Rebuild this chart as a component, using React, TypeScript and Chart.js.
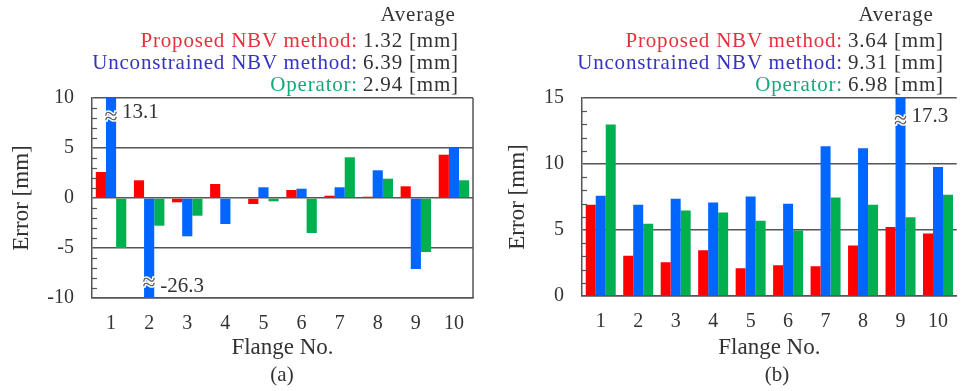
import React, { useEffect, useRef } from "react";
import { Chart, registerables } from "chart.js";

Chart.register(...registerables);

// ---------------- data ----------------
const flanges = ["1", "2", "3", "4", "5", "6", "7", "8", "9", "10"];
const seriesNames = ["Proposed NBV method", "Unconstrained NBV method", "Operator"];

const errorA_proposed = [2.6, 1.77, -0.43, 1.4, -0.6, 0.8, 0.23, 0.13, 1.17, 4.33];
const errorA_unconstrained = [13.1, -26.3, -3.83, -2.6, 1.07, 0.93, 1.07, 2.77, -7.1, 5.07];
const errorA_operator = [-5.0, -2.77, -1.77, 0.1, -0.33, -3.5, 4.07, 1.93, -5.4, 1.77];

const errorB_proposed = [6.91, 3.04, 2.56, 3.47, 2.1, 2.33, 2.25, 3.82, 5.22, 4.73];
const errorB_unconstrained = [7.59, 6.91, 7.37, 7.09, 7.54, 6.99, 11.34, 11.19, 17.3, 9.77];
const errorB_operator = [12.99, 5.47, 6.48, 6.33, 5.7, 4.96, 7.47, 6.91, 5.97, 7.67];

const averagesA = ["1.32", "6.39", "2.94"];
const averagesB = ["3.64", "9.31", "6.98"];

const rangeA = [-10, 10];
const rangeB = [0, 15];

// break annotations on clipped bars (dataset, index, y where mark sits, label)
const breaksA = [
  { dataset: 1, index: 0, at: 8, text: "13.1", dy: -6 },
  { dataset: 1, index: 1, at: -8.6, text: "-26.3", dy: 2 },
];
const breaksB = [{ dataset: 1, index: 8, at: 13.2, text: "17.3", dy: -5 }];

// ---------------- styles ----------------
const barColors = ["#ff0000", "#0066ff", "#00b050"];
const textColors = ["#e8303c", "#3434c0", "#17a878"];
const FONT = "'Liberation Serif', 'DejaVu Serif', serif";
const AXIS = "#555555";
const TEXT = "#333333";

const overlayPlugin = {
  id: "overlay",
  afterDatasetsDraw(chart: any, _args: any, opts: any) {
    const { ctx, chartArea: a } = chart;
    const y = chart.scales.y;
    ctx.save();
    ctx.strokeStyle = AXIS;
    ctx.lineWidth = 1.2;
    for (let v = y.min; v <= y.max; v++) {
      if (v % 5 === 0) continue;
      const py = Math.round(y.getPixelForValue(v)) + 0.5;
      ctx.beginPath();
      ctx.moveTo(a.left, py);
      ctx.lineTo(a.left + 5, py);
      ctx.stroke();
    }
    if (opts.rightBorder) {
      ctx.lineWidth = 1.5;
      ctx.beginPath();
      ctx.moveTo(a.right, a.top);
      ctx.lineTo(a.right, a.bottom);
      ctx.stroke();
    }
    for (const b of opts.breaks || []) {
      const bar = chart.getDatasetMeta(b.dataset).data[b.index];
      if (!bar) continue;
      const px = bar.x;
      const py = y.getPixelForValue(b.at);
      ctx.font = `24px ${FONT}`;
      ctx.textAlign = "center";
      ctx.textBaseline = "middle";
      ctx.lineWidth = 3;
      ctx.strokeStyle = "#ffffff";
      ctx.strokeText("\u2248", px, py);
      ctx.fillStyle = "#555555";
      ctx.fillText("\u2248", px, py);
      ctx.font = `21px ${FONT}`;
      ctx.textAlign = "left";
      ctx.fillStyle = TEXT;
      ctx.fillText(b.text, px + 11, py + b.dy);
    }
    ctx.restore();
  },
};

function makeChart(
  canvas: HTMLCanvasElement,
  data: number[][],
  range: number[],
  breaks: any[],
  rightPad: number,
  rightBorder: boolean,
  titleOffset: number,
  plotBottom: number
) {
  const font = { family: FONT, size: 20 };
  const titleFont = { family: FONT, size: 23 };
  return new Chart(canvas, {
    type: "bar",
    data: {
      labels: flanges,
      datasets: data.map((d, i) => ({
        label: seriesNames[i],
        data: d,
        backgroundColor: barColors[i],
        borderWidth: 0,
        categoryPercentage: 0.8,
        barPercentage: 1.0,
      })),
    },
    plugins: [overlayPlugin],
    options: {
      animation: false,
      responsive: false,
      maintainAspectRatio: false,
      layout: { padding: { top: 98, left: 0, right: rightPad, bottom: 0 } },
      plugins: {
        legend: { display: false },
        tooltip: { enabled: false },
        overlay: { breaks, rightBorder },
      } as any,
      scales: {
        x: {
          type: "category",
          offset: true,
          grid: { display: false, drawTicks: false },
          border: { display: true, color: AXIS, width: 1.5 },
          ticks: { padding: 14, color: TEXT, font, maxRotation: 0, autoSkip: false },
          title: {
            display: true,
            text: "Flange No.",
            color: TEXT,
            font: titleFont,
            padding: { top: 0, bottom: 29 },
          },
          afterFit: (s: any) => {
            s.height = 391 - plotBottom;
          },
        },
        y: {
          min: range[0],
          max: range[1],
          ticks: {
            stepSize: 1,
            autoSkip: false,
            padding: 18,
            color: TEXT,
            font,
            callback: (v: any) => (Number(v) % 5 === 0 ? String(v) : ""),
          },
          grid: {
            drawTicks: false,
            color: (c: any) => (c.tick && c.tick.value % 5 === 0 ? AXIS : "rgba(0,0,0,0)"),
            lineWidth: 1.5,
          },
          border: { display: true, color: AXIS, width: 1.5 },
          title: {
            display: true,
            text: "Error [mm]",
            color: TEXT,
            font: titleFont,
            padding: { top: titleOffset, bottom: 0 },
          },
          afterFit: (s: any) => {
            s.width = 92;
          },
        },
      },
    } as any,
  });
}

function Legend({ colon, avgCenter, values }: { colon: number; avgCenter: number; values: string[] }) {
  const rows = [40, 62, 84];
  const base: React.CSSProperties = {
    position: "absolute",
    fontFamily: FONT,
    fontSize: 21,
    letterSpacing: "0.8px",
    lineHeight: "22px",
    whiteSpace: "nowrap",
  };
  return (
    <>
      <div style={{ ...base, left: avgCenter - 100, width: 200, top: 14 - 11, textAlign: "center", color: TEXT }}>
        Average
      </div>
      {rows.map((ry, i) => (
        <React.Fragment key={i}>
          <div style={{ ...base, right: 962 - colon, top: ry - 11, color: textColors[i], textAlign: "right" }}>
            {seriesNames[i]}:
          </div>
          <div style={{ ...base, left: colon + 5, top: ry - 11, color: TEXT }}>{values[i]} [mm]</div>
        </React.Fragment>
      ))}
    </>
  );
}

export default function App() {
  const refA = useRef<HTMLCanvasElement>(null);
  const refB = useRef<HTMLCanvasElement>(null);

  useEffect(() => {
    const a = makeChart(
      refA.current!,
      [errorA_proposed, errorA_unconstrained, errorA_operator],
      rangeA,
      breaksA,
      7,
      true,
      8,
      298
    );
    const b = makeChart(
      refB.current!,
      [errorB_proposed, errorB_unconstrained, errorB_operator],
      rangeB,
      breaksB,
      0,
      false,
      14,
      296
    );
    return () => {
      a.destroy();
      b.destroy();
    };
  }, []);

  const capStyle: React.CSSProperties = {
    position: "absolute",
    width: 100,
    top: 362,
    textAlign: "center",
    fontFamily: FONT,
    fontSize: 21,
    lineHeight: "24px",
    color: TEXT,
  };

  return (
    <div style={{ position: "fixed", left: 0, top: 0, width: 962, height: 391, background: "#fff", overflow: "hidden" }}>
      <canvas ref={refA} width={480} height={391} style={{ position: "absolute", left: 0, top: 0, width: 480, height: 391 }} />
      <canvas ref={refB} width={472} height={391} style={{ position: "absolute", left: 490, top: 0, width: 472, height: 391 }} />
      <Legend colon={358} avgCenter={418} values={averagesA} />
      <Legend colon={843} avgCenter={896} values={averagesB} />
      <div style={{ ...capStyle, left: 232 }}>(a)</div>
      <div style={{ ...capStyle, left: 727 }}>(b)</div>
    </div>
  );
}
